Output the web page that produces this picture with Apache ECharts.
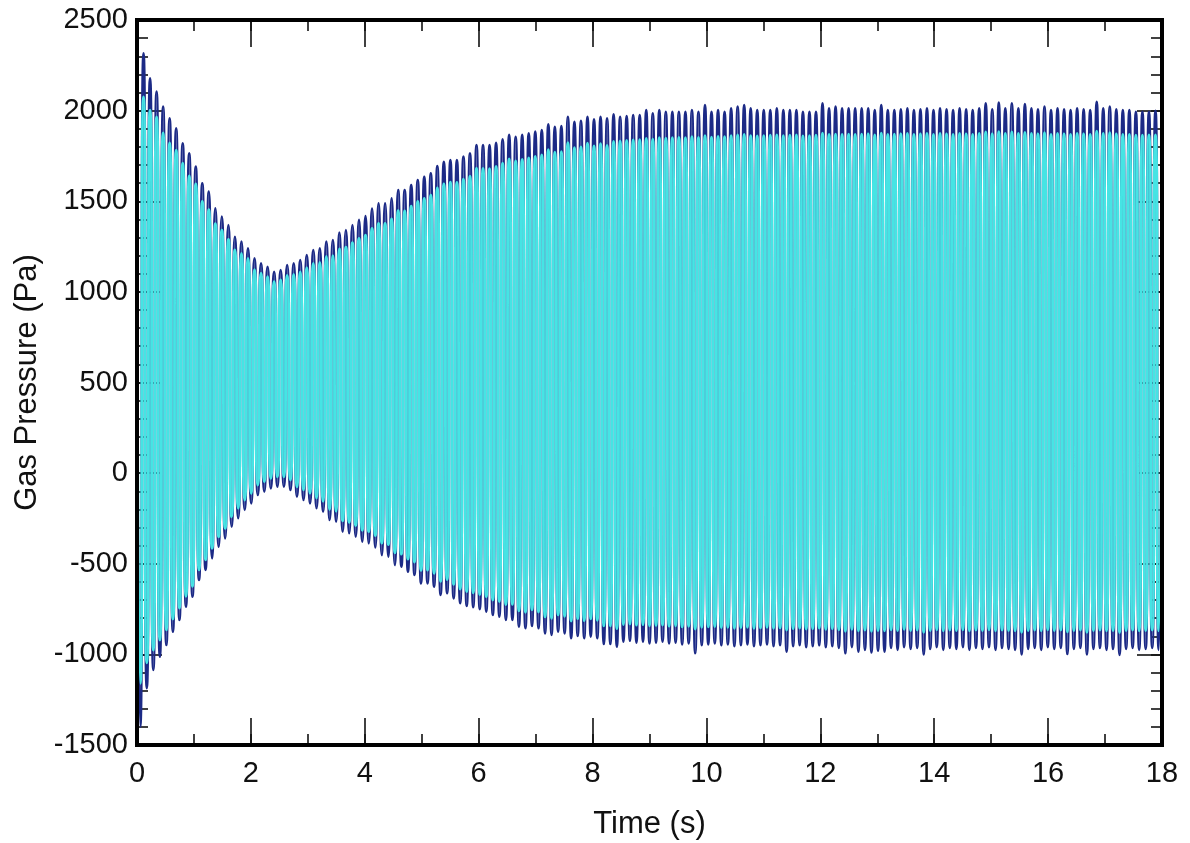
<!DOCTYPE html>
<html>
<head>
<meta charset="utf-8">
<title>Gas Pressure</title>
<script src="https://cdn.jsdelivr.net/npm/echarts@6/dist/echarts.min.js"></script>
<style>
  html, body { margin: 0; padding: 0; background: #ffffff; }
  #chart { width: 1190px; height: 843px; }
</style>
</head>
<body>
<div id="chart"></div>
<script>
// Oscillation period of the pressure signal (s); one peak and one trough per cycle
const cycleSeconds = 0.11465;

// Time axis ticks (s) and minor tick spacing
const timeTicks = [0, 2, 4, 6, 8, 10, 12, 14, 16, 18];
const timeMinorStep = 1;
// Pressure axis ticks (Pa) and minor tick spacing
const pressureTicks = [-1500, -1000, -500, 0, 500, 1000, 1500, 2000, 2500];
const pressureMinorStep = 100;

// Dark trace: pressure maxima, one per cycle (Pa)
const navyPeaks = [
  2420, 2316, 2178, 2105, 2022, 1957, 1902, 1820, 1764, 1691,
  1599, 1553, 1461, 1415, 1369, 1304, 1277, 1240, 1185, 1158,
  1139, 1111, 1121, 1148, 1158, 1176, 1203, 1231, 1240, 1277,
  1286, 1327, 1341, 1369, 1397, 1419, 1460, 1489, 1489, 1516,
  1562, 1562, 1590, 1617, 1635, 1654, 1694, 1718, 1728, 1728,
  1746, 1764, 1810, 1810, 1810, 1823, 1842, 1866, 1856, 1866,
  1875, 1884, 1893, 1924, 1911, 1915, 1966, 1939, 1944, 1966,
  1952, 1966, 1957, 1980, 1966, 1970, 1976, 1976, 2003, 1985,
  2003, 1994, 1994, 1994, 1994, 2003, 1994, 2031, 1994, 2003,
  1994, 2013, 2022, 2031, 2013, 2003, 2003, 2003, 2013, 2003,
  2003, 2003, 1994, 1994, 1994, 2040, 2013, 2022, 2013, 2013,
  2013, 2013, 2013, 2003, 2031, 2003, 2003, 2008, 2013, 2003,
  2008, 2013, 2003, 2013, 2008, 2003, 2013, 2008, 2003, 2013,
  2040, 2008, 2044, 2013, 2040, 2013, 2036, 2013, 2008, 2022,
  2003, 2013, 2008, 2003, 2013, 2008, 2003, 2049, 2013, 2022,
  2008, 2003, 2003, 1994, 1994, 1994, 1999, 2003
];
// Dark trace: pressure minima, one per cycle (Pa)
const navyTroughs = [
  -1399, -1187, -1086, -1013, -948, -875, -810, -737, -682, -590,
  -534, -470, -406, -360, -296, -249, -203, -167, -121, -102,
  -84, -75, -75, -93, -130, -148, -167, -194, -213, -259,
  -268, -323, -332, -351, -378, -387, -410, -452, -461, -507,
  -516, -544, -562, -608, -608, -626, -672, -663, -691, -718,
  -733, -740, -751, -764, -783, -792, -810, -810, -847, -856,
  -843, -856, -884, -893, -875, -884, -911, -899, -911, -902,
  -911, -943, -943, -958, -930, -925, -935, -930, -940, -935,
  -930, -940, -935, -945, -940, -994, -950, -945, -940, -950,
  -945, -955, -950, -945, -955, -950, -945, -955, -950, -985,
  -955, -950, -960, -955, -950, -960, -955, -965, -994, -960,
  -985, -975, -990, -980, -985, -965, -975, -960, -970, -965,
  -1000, -970, -960, -975, -965, -970, -960, -975, -965, -970,
  -960, -975, -965, -970, -975, -1000, -970, -965, -975, -960,
  -970, -965, -998, -970, -965, -1000, -970, -965, -975, -970,
  -1003, -970, -965, -975, -970, -965, -975
];
// Light trace: pressure maxima, one per cycle (Pa)
const cyanPeaks = [
  2070, 2076, 2003, 1965, 1877, 1822, 1782, 1710, 1639, 1596,
  1499, 1453, 1376, 1340, 1289, 1232, 1212, 1185, 1123, 1103,
  1084, 1056, 1066, 1090, 1096, 1110, 1133, 1157, 1162, 1195,
  1200, 1237, 1247, 1271, 1295, 1313, 1350, 1378, 1377, 1403,
  1448, 1446, 1473, 1499, 1516, 1534, 1573, 1596, 1605, 1604,
  1621, 1638, 1682, 1681, 1680, 1692, 1710, 1733, 1722, 1731,
  1739, 1747, 1755, 1784, 1770, 1773, 1823, 1795, 1799, 1820,
  1805, 1818, 1808, 1830, 1832, 1836, 1838, 1840, 1846, 1842,
  1850, 1848, 1850, 1852, 1850, 1856, 1852, 1862, 1854, 1858,
  1856, 1862, 1866, 1868, 1862, 1860, 1862, 1864, 1866, 1862,
  1864, 1866, 1860, 1862, 1864, 1876, 1868, 1870, 1868, 1870,
  1868, 1870, 1872, 1866, 1876, 1868, 1870, 1872, 1874, 1868,
  1872, 1874, 1868, 1874, 1872, 1868, 1874, 1872, 1868, 1874,
  1882, 1872, 1884, 1874, 1882, 1874, 1880, 1874, 1872, 1878,
  1868, 1874, 1872, 1868, 1874, 1872, 1868, 1886, 1874, 1878,
  1872, 1868, 1868, 1864, 1864, 1866, 1866, 1868
];
// Light trace: pressure minima, one per cycle (Pa)
const cyanTroughs = [
  -1159, -1047, -976, -921, -865, -805, -745, -679, -624, -534,
  -478, -415, -351, -305, -241, -194, -148, -112, -66, -47,
  -29, -20, -20, -38, -75, -92, -111, -137, -156, -201,
  -210, -263, -271, -289, -315, -323, -345, -386, -394, -439,
  -447, -474, -491, -536, -535, -552, -597, -587, -614, -640,
  -654, -660, -670, -682, -700, -708, -725, -724, -760, -768,
  -754, -766, -793, -801, -782, -790, -816, -803, -814, -804,
  -812, -843, -843, -858, -835, -832, -838, -836, -842, -840,
  -838, -844, -842, -848, -845, -860, -850, -848, -846, -852,
  -850, -856, -852, -850, -856, -854, -850, -856, -854, -866,
  -858, -855, -860, -858, -855, -862, -858, -864, -872, -862,
  -870, -866, -872, -868, -870, -864, -868, -862, -868, -866,
  -878, -868, -864, -870, -866, -868, -864, -870, -866, -868,
  -864, -870, -866, -868, -870, -878, -868, -866, -870, -864,
  -868, -866, -876, -868, -866, -878, -868, -866, -870, -868,
  -880, -868, -866, -870, -868, -866, -870
];

// Alternate maxima and minima in time order: max at k*T, min at (k+0.5)*T
function buildTrace(peaks, troughs) {
  const pts = [];
  for (let k = 0; k < peaks.length; k++) {
    pts.push([k * cycleSeconds, peaks[k]]);
    if (k < troughs.length) pts.push([(k + 0.5) * cycleSeconds, troughs[k]]);
  }
  return pts;
}

const FONT = '"Liberation Sans", Arial, Helvetica, sans-serif';
const INK = '#111111';

const tMin = timeTicks[0], tMax = timeTicks[timeTicks.length - 1];
const tStep = timeTicks[1] - timeTicks[0];
const pMin = pressureTicks[0], pMax = pressureTicks[pressureTicks.length - 1];
const pStep = pressureTicks[1] - pressureTicks[0];

// One axis per side per tick size: long ticks at labelled values, short ticks between
function xAxisDef(pos, step, tickLen, label) {
  return {
    type: 'value', position: pos, min: tMin, max: tMax, interval: step,
    name: label ? 'Time (s)' : '',
    nameLocation: 'middle', nameGap: 64,
    nameTextStyle: { fontFamily: FONT, fontSize: 31, color: INK },
    axisLine: { show: false, onZero: false },
    axisTick: { show: true, inside: true, length: tickLen, lineStyle: { color: INK, width: 1.6 } },
    splitLine: { show: false },
    axisLabel: {
      show: label, margin: 14, fontFamily: FONT, fontSize: 29, color: INK,
      showMinLabel: true, showMaxLabel: true,
      formatter: (v) => String(v)
    }
  };
}

function yAxisDef(pos, step, tickLen, label) {
  return {
    type: 'value', position: pos, min: pMin, max: pMax, interval: step,
    name: label ? 'Gas Pressure (Pa)' : '',
    nameLocation: 'middle', nameGap: 94, nameRotate: 90,
    nameTextStyle: { fontFamily: FONT, fontSize: 31, color: INK },
    axisLine: { show: false, onZero: false },
    axisTick: { show: true, inside: true, length: tickLen, lineStyle: { color: INK, width: 1.6 } },
    splitLine: { show: false },
    axisLabel: {
      show: label, margin: 9, fontFamily: FONT, fontSize: 29, color: INK,
      showMinLabel: true, showMaxLabel: true,
      formatter: (v) => String(v)
    }
  };
}

const chart = echarts.init(document.getElementById('chart'), null, { renderer: 'canvas' });
chart.setOption({
  animation: false,
  backgroundColor: '#ffffff',
  grid: {
    left: 137, right: 28, top: 20, bottom: 98,
    outerBoundsMode: 'none',
    show: true, z: 5, borderColor: '#000000', borderWidth: 4,
    backgroundColor: 'transparent'
  },
  xAxis: [
    xAxisDef('bottom', tStep, 27, true),
    xAxisDef('bottom', timeMinorStep, 11, false),
    xAxisDef('top', tStep, 27, false),
    xAxisDef('top', timeMinorStep, 11, false)
  ],
  yAxis: [
    yAxisDef('left', pStep, 25, true),
    yAxisDef('left', pressureMinorStep, 11, false),
    yAxisDef('right', pStep, 25, false),
    yAxisDef('right', pressureMinorStep, 11, false)
  ],
  series: [
    {
      name: 'dark', type: 'line', xAxisIndex: 0, yAxisIndex: 0,
      data: buildTrace(navyPeaks, navyTroughs),
      showSymbol: false, smooth: 1,
      lineStyle: { color: '#1c2a86', width: 2.6 },
      z: 2
    },
    {
      name: 'light', type: 'line', xAxisIndex: 0, yAxisIndex: 0,
      data: buildTrace(cyanPeaks, cyanTroughs),
      showSymbol: false, smooth: 1,
      lineStyle: { color: '#46e4e4', width: 2.9 },
      z: 3
    }
  ]
});
</script>
</body>
</html>
